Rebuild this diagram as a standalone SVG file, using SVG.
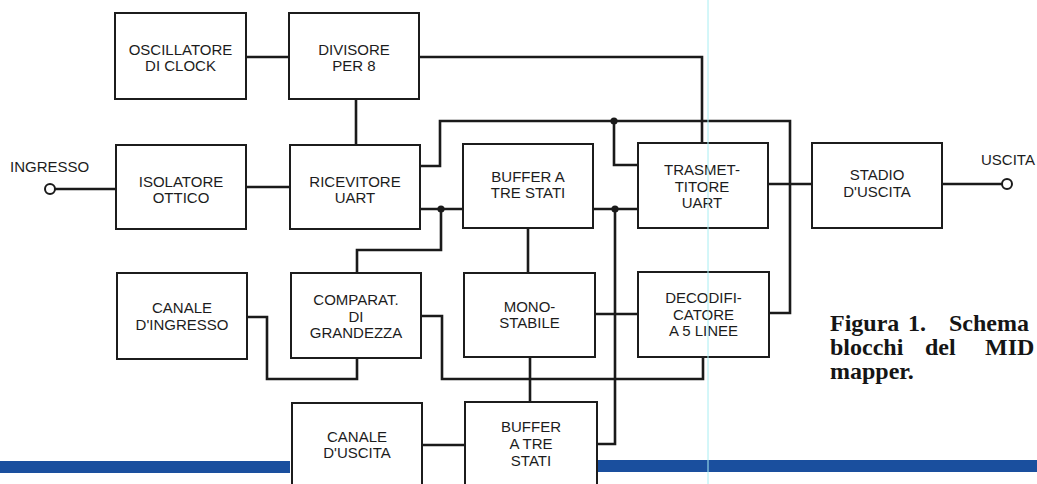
<svg xmlns="http://www.w3.org/2000/svg" width="1037" height="484" viewBox="0 0 1037 484">
<style>
.box rect{fill:#fff;stroke:#1c1c1c;stroke-width:2}
.box text{font-family:"Liberation Sans",Arial,sans-serif;font-size:15px;fill:#1c1c1c;text-anchor:middle}
.lbl{font-family:"Liberation Sans",Arial,sans-serif;font-size:15px;fill:#1c1c1c}
#wires path{fill:none;stroke:#1a1a1a;stroke-width:2.6;stroke-linejoin:miter}
#wires circle.dot{fill:#1a1a1a}
#wires circle.term{fill:#fff;stroke:#1a1a1a;stroke-width:2}
.cap{font-family:"Liberation Serif","Times New Roman",serif;font-weight:bold;font-size:24px;fill:#151515}
</style>
<rect width="1037" height="484" fill="#fff"/>
<g id="bars">
<rect x="0" y="461" width="290" height="12" fill="#1a4f9e"/>
<rect x="597" y="460" width="440" height="12" fill="#1a4f9e"/>
</g>
<g id="wires">
<path d="M246,57 H289"/>
<path d="M419,57 H702 V143"/>
<path d="M356,99 V145"/>
<path d="M55,189 H116"/>
<path d="M246,187 H290"/>
<path d="M420,166 H440 V121 H790 V313 H769"/>
<path d="M614,121 V165 H638"/>
<path d="M420,209 H463"/>
<path d="M441,209 V250 H357 V273"/>
<path d="M593,209 H638"/>
<path d="M615,209 V444 H597"/>
<path d="M528,228 V273"/>
<path d="M768,184 H812"/>
<path d="M942,184 H1002"/>
<path d="M247,317 H267 V379 H357 V358"/>
<path d="M421,316 H442 V379 H703 V357"/>
<path d="M595,314 H638"/>
<path d="M530,357 V402"/>
<path d="M422,445 H465"/>
<circle class="dot" cx="614" cy="121" r="3.6"/>
<circle class="dot" cx="441" cy="209" r="3.6"/>
<circle class="dot" cx="615" cy="209" r="3.6"/>
<circle class="term" cx="50" cy="189" r="5"/>
<circle class="term" cx="1007" cy="184" r="5"/>
</g>
<g id="osc" class="box"><rect x="115" y="13" width="131" height="86"/><text x="180.5" y="55">OSCILLATORE</text><text x="180.5" y="71">DI CLOCK</text></g>
<g id="div" class="box"><rect x="289" y="13" width="130" height="86"/><text x="354" y="55">DIVISORE</text><text x="354" y="71">PER 8</text></g>
<g id="iso" class="box"><rect x="116" y="145" width="130" height="84"/><text x="181" y="187">ISOLATORE</text><text x="181" y="203">OTTICO</text></g>
<g id="ric" class="box"><rect x="290" y="145" width="130" height="84"/><text x="355" y="187">RICEVITORE</text><text x="355" y="203">UART</text></g>
<g id="buf1" class="box"><rect x="463" y="144" width="130" height="84"/><text x="528" y="182">BUFFER A</text><text x="528" y="198">TRE STATI</text></g>
<g id="trasm" class="box"><rect x="638" y="143" width="130" height="85"/><text x="702" y="175">TRASMET-</text><text x="702" y="191.5">TITORE</text><text x="702" y="208">UART</text></g>
<g id="stadio" class="box"><rect x="812" y="143" width="130" height="85"/><text x="877" y="180">STADIO</text><text x="877" y="197">D'USCITA</text></g>
<g id="canin" class="box"><rect x="117" y="273" width="130" height="86"/><text x="182" y="313">CANALE</text><text x="182" y="330">D'INGRESSO</text></g>
<g id="comp" class="box"><rect x="291" y="273" width="130" height="85"/><text x="356" y="305">COMPARAT.</text><text x="356" y="321.5">DI</text><text x="356" y="338">GRANDEZZA</text></g>
<g id="mono" class="box"><rect x="464" y="273" width="131" height="84"/><text x="529.5" y="312">MONO-</text><text x="529.5" y="328">STABILE</text></g>
<g id="decod" class="box"><rect x="638" y="272" width="131" height="85"/><text x="703.5" y="303">DECODIFI-</text><text x="703.5" y="320">CATORE</text><text x="703.5" y="336">A 5 LINEE</text></g>
<g id="canout" class="box"><rect x="292" y="403" width="130" height="92"/><text x="357" y="442">CANALE</text><text x="357" y="458">D'USCITA</text></g>
<g id="buf2" class="box"><rect x="465" y="402" width="132" height="93"/><text x="531" y="432">BUFFER</text><text x="531" y="449">A TRE</text><text x="531" y="466">STATI</text></g>
<g id="ingresso"><text class="lbl" x="10" y="172">INGRESSO</text></g>
<g id="uscita"><text class="lbl" x="981" y="165">USCITA</text></g>
<g id="caption">
<text class="cap" x="830" y="331">Figura</text>
<text class="cap" x="908" y="331">1.</text>
<text class="cap" x="949" y="331">Schema</text>
<text class="cap" x="830" y="355">blocchi</text>
<text class="cap" x="925" y="355">del</text>
<text class="cap" x="985" y="355">MID</text>
<text class="cap" x="830" y="379">mapper.</text>
</g>
<line x1="708" y1="0" x2="708" y2="484" stroke="#a8eef2" stroke-width="1"/>
</svg>
